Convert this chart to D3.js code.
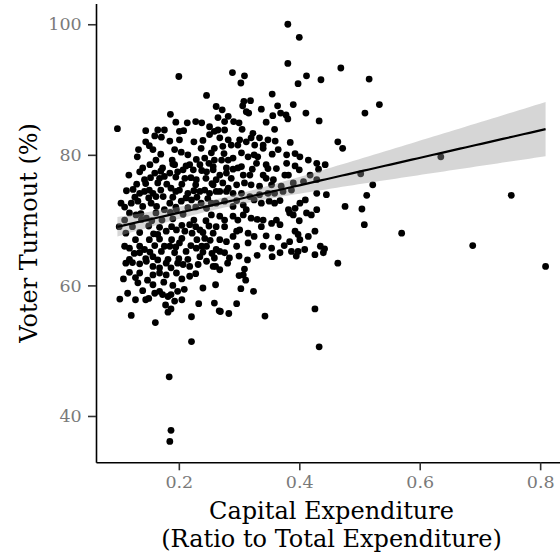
<!DOCTYPE html>
<html>
<head>
<meta charset="utf-8">
<script src="https://cdn.jsdelivr.net/npm/d3@7"></script>
<style>
  body { margin: 0; background: #fff; }
  svg { display: block; }
</style>
</head>
<body>
<svg id="chart"></svg>
<script>
// [capital expenditure ratio, voter turnout %] per district
const districts = [
  [0.200,92.0],[0.246,89.1],[0.262,87.4],[0.186,86.2],[0.214,84.9],[0.238,84.9],[0.098,84.0],[0.145,83.7],
  [0.165,83.8],[0.176,83.8],[0.160,82.9],[0.171,82.7],[0.201,83.6],[0.208,83.7],[0.201,82.3],[0.251,84.3],
  [0.251,83.1],[0.259,83.6],[0.133,80.8],[0.151,81.4],[0.157,80.8],[0.131,79.7],[0.193,80.8],[0.204,80.4],
  [0.189,79.2],[0.237,81.0],[0.229,79.3],[0.243,79.5],[0.254,80.3],[0.259,79.2],[0.162,79.2],[0.140,78.0],
  [0.173,78.0],[0.193,78.5],[0.212,78.3],
  [0.381,100.0],[0.400,98.0],
  [0.381,94.0],[0.289,92.6],[0.309,92.1],[0.303,91.0],[0.412,92.1],[0.398,90.9],[0.436,91.5],[0.355,89.3],
  [0.272,86.9],[0.308,88.2],[0.319,88.3],[0.306,87.5],[0.312,86.6],[0.316,86.4],[0.337,87.0],[0.364,87.5],
  [0.390,87.7],[0.356,86.0],[0.369,86.4],[0.378,86.1],[0.381,85.5],[0.411,86.4],[0.433,85.2],[0.265,85.7],
  [0.276,85.1],[0.282,85.9],[0.291,85.1],[0.265,83.8],[0.276,83.8],[0.268,82.6],[0.282,82.3],[0.305,83.9],
  [0.359,83.9],[0.259,81.0],[0.273,81.3],[0.287,81.5],[0.301,82.3],[0.323,83.3],[0.320,82.6],[0.334,82.6],
  [0.326,81.5],[0.340,81.5],[0.348,82.3],[0.304,80.3],[0.298,81.5],[0.340,81.0],[0.365,80.8],[0.379,80.0],
  [0.393,80.2],[0.401,79.7],[0.415,79.2],[0.429,78.7],[0.271,79.2],[0.282,79.2],[0.290,79.5],[0.315,79.7],
  [0.331,79.7],[0.345,78.5],[0.329,78.7],[0.257,78.2],[0.279,78.0],[0.298,78.0],[0.379,78.7],[0.393,78.3],
  [0.469,93.3],[0.516,91.6],[0.533,87.7],[0.509,86.4],[0.464,82.0],[0.472,81.0],[0.635,79.7],[0.502,77.1],
  [0.522,75.4],[0.512,73.8],[0.752,73.8],[0.476,72.1],[0.504,71.7],[0.508,69.3],[0.570,68.0],[0.442,65.6],
  [0.440,65.0],[0.688,66.1],[0.464,63.4],[0.809,62.9],[0.433,50.6],
  [0.184,46.0],[0.187,37.8],[0.185,36.1],
  [0.281,63.4],[0.261,62.9],[0.268,62.4],[0.314,63.9],[0.309,62.5],[0.300,61.5],[0.307,61.6],[0.311,60.8],
  [0.261,60.1],[0.303,59.5],[0.324,59.1],[0.259,57.3],[0.267,56.1],[0.269,56.0],[0.283,55.7],[0.296,57.2],
  [0.343,55.3],[0.426,56.4],
  [0.112,63.4],[0.123,63.5],[0.135,63.3],[0.146,63.7],[0.157,62.9],[0.168,62.7],[0.179,63.4],[0.187,62.7],
  [0.198,63.4],[0.207,63.2],[0.218,62.9],[0.232,63.2],[0.246,63.7],[0.257,62.9],[0.135,61.9],[0.157,61.6],
  [0.168,61.9],[0.179,61.6],[0.196,61.9],[0.218,61.4],[0.108,61.0],[0.157,60.1],[0.132,60.4],[0.140,59.2],
  [0.160,58.8],[0.168,59.1],[0.173,58.6],[0.182,58.3],[0.187,58.6],[0.198,59.1],[0.209,59.4],[0.102,57.9],
  [0.128,57.8],[0.145,57.8],[0.193,57.6],[0.187,56.4],[0.182,55.9],[0.233,57.2],[0.121,55.4],[0.161,54.3],
  [0.221,55.2],[0.221,51.4],
  [0.117,76.9],[0.135,77.4],[0.143,76.2],[0.160,77.2],[0.176,76.7],[0.185,77.2],[0.207,77.7],[0.210,76.4],
  [0.224,77.7],[0.235,78.5],[0.229,76.2],[0.246,77.4],[0.257,77.7],[0.262,76.2],[0.165,75.7],[0.151,74.6],
  [0.157,74.1],[0.124,74.7],[0.135,74.1],[0.187,74.9],[0.201,74.6],[0.215,74.1],[0.235,74.4],[0.251,74.1],
  [0.104,72.6],[0.121,72.6],[0.132,72.9],[0.140,72.1],[0.154,72.6],[0.174,73.6],[0.185,72.6],[0.204,72.9],
  [0.221,73.1],[0.237,72.6],[0.254,72.6],[0.101,69.0],[0.129,70.8],[0.146,70.3],[0.162,71.1],[0.176,71.6],
  [0.196,71.6],[0.118,65.7],[0.135,66.0],[0.126,64.9],[0.143,65.5],[0.151,67.0],[0.165,67.8],[0.179,68.3],
  [0.196,68.5],[0.210,68.3],[0.218,69.3],[0.235,68.5],[0.243,67.2],[0.257,68.0],[0.157,64.4],[0.171,65.2],
  [0.185,66.0],[0.201,66.5],[0.212,65.2],[0.229,65.7],[0.246,66.0],[0.262,65.5],[0.235,64.4],
  [0.304,78.2],[0.348,77.9],[0.443,78.5],[0.268,76.9],[0.279,77.2],[0.287,76.4],[0.307,76.9],[0.318,76.9],
  [0.340,76.9],[0.345,76.4],[0.357,76.2],[0.376,76.9],[0.382,76.9],[0.418,76.9],[0.257,75.4],[0.273,75.7],
  [0.282,74.9],[0.296,75.4],[0.309,75.7],[0.320,75.4],[0.334,75.2],[0.354,75.4],[0.370,75.2],[0.390,75.7],
  [0.407,75.9],[0.429,76.2],[0.268,74.4],[0.279,74.4],[0.290,74.1],[0.304,74.1],[0.318,73.6],[0.334,73.9],
  [0.348,74.1],[0.359,74.1],[0.373,74.4],[0.387,74.6],[0.429,74.1],[0.445,73.9],[0.262,72.6],[0.276,72.9],
  [0.290,72.1],[0.307,72.3],[0.312,71.6],[0.337,72.6],[0.359,72.6],[0.382,71.6],[0.393,71.8],[0.401,72.6],
  [0.412,71.1],[0.420,70.8],[0.429,71.6],[0.390,70.8],[0.254,70.8],[0.268,70.6],[0.276,70.0],[0.290,70.6],
  [0.307,70.8],[0.320,70.3],[0.340,70.0],[0.337,69.0],[0.354,69.5],[0.368,69.3],[0.384,71.1],[0.262,69.0],
  [0.276,69.0],[0.296,68.3],[0.315,68.0],[0.301,68.5],[0.393,68.3],[0.398,67.8],[0.384,66.7],[0.401,67.0],
  [0.426,68.3],[0.268,67.0],[0.279,66.7],[0.290,67.5],[0.315,66.5],[0.296,66.0],[0.354,65.7],[0.368,65.0],
  [0.387,65.2],[0.398,65.2],[0.409,65.5],[0.426,64.7],[0.268,65.2],[0.276,65.0],[0.259,64.2],[0.284,64.2],
  // denser core of the cloud
  [0.152,78.5],[0.190,78.6],[0.218,78.5],[0.250,78.7],[0.170,77.5],[0.198,77.4],
  [0.238,77.6],[0.153,76.5],[0.168,76.4],[0.195,76.6],[0.220,76.5],[0.245,76.4],[0.130,75.5],
  [0.145,75.6],[0.180,75.5],[0.205,75.5],[0.228,75.4],[0.255,75.6],[0.113,74.5],[0.143,74.4],[0.170,74.6],
  [0.195,74.4],[0.225,74.5],[0.243,74.6],[0.262,74.4],[0.127,73.5],[0.150,73.4],[0.162,73.6],[0.190,73.5],
  [0.212,73.4],[0.230,73.5],[0.248,73.3],[0.110,72.0],[0.163,72.1],[0.195,72.0],[0.215,71.9],[0.228,72.0],
  [0.246,71.8],[0.118,71.1],[0.137,71.0],[0.186,71.2],[0.207,70.9],[0.110,70.0],[0.138,70.1],[0.155,69.9],
  [0.172,70.0],[0.190,70.2],[0.225,70.0],[0.245,69.9],[0.123,69.0],[0.150,69.1],[0.168,68.9],[0.188,69.0],
  [0.205,69.2],[0.228,69.0],[0.250,69.1],[0.112,68.0],[0.135,68.1],[0.158,67.9],[0.222,68.0],[0.240,68.1],
  [0.128,67.0],[0.168,67.1],[0.188,67.0],[0.205,67.2],[0.230,67.0],[0.252,66.9],[0.110,66.0],[0.160,66.1],
  [0.176,66.0],[0.195,65.9],[0.220,66.1],[0.238,66.0],[0.135,65.0],[0.152,65.1],[0.193,65.0],[0.240,65.1],
  [0.255,64.9],[0.118,64.0],[0.145,64.1],[0.165,63.9],[0.182,64.0],[0.200,64.1],[0.215,64.0],
  [0.290,77.8],[0.322,77.8],[0.362,77.9],[0.400,77.7],[0.432,77.8],[0.296,73.0],[0.325,73.1],[0.350,72.9],
  [0.368,73.0],[0.410,73.1],[0.298,70.0],[0.330,70.1],[0.362,70.0],[0.400,69.9],[0.325,67.5],[0.345,67.6],
  [0.365,67.4],[0.415,67.5],[0.340,66.0],[0.375,66.1],[0.435,66.0],[0.300,64.5],[0.330,64.6],[0.355,64.4],
  [0.395,64.5],
  [0.145,82.0],[0.185,82.1],[0.225,82.0],[0.240,82.2],[0.312,82.0],[0.360,82.1],[0.385,81.9],[0.170,80.1],
  [0.215,80.0],[0.275,80.2],[0.325,80.0],[0.355,80.1],[0.195,85.0],[0.228,85.1],[0.300,84.9],[0.345,85.0],
  [0.118,62.0],[0.128,61.2],[0.148,60.8],[0.175,60.5],[0.190,60.0],[0.205,61.0],[0.228,61.8],[0.150,58.0],
  [0.178,57.0],[0.205,57.8],[0.240,59.6],[0.115,58.8]
];
const xTicks = [0.2, 0.4, 0.6, 0.8];
const yTicks = [40, 60, 80, 100];
const xTitle = ['Capital Expenditure', '(Ratio to Total Expenditure)'];
const yTitle = 'Voter Turnout (%)';

const width = 560, height = 556;
const panel = { left: 96, right: 567, top: 3.4, bottom: 462.3 };
const font = '"DejaVu Serif", serif';

const svg = d3.select('#chart').attr('width', width).attr('height', height);

// ggplot-style 5% expansion around the data
const expand = ext => { const d = (ext[1] - ext[0]) * 0.05; return [ext[0] - d, ext[1] + d]; };
const xExt = d3.extent(districts, d => d[0]);
const x = d3.scaleLinear().domain(expand(xExt)).range([panel.left, panel.right]);
const y = d3.scaleLinear().domain(expand(d3.extent(districts, d => d[1]))).range([panel.bottom, panel.top]);

// linear fit with 95% confidence band (geom_smooth(method = "lm"))
const n = districts.length;
const mx = d3.mean(districts, d => d[0]), my = d3.mean(districts, d => d[1]);
const sxx = d3.sum(districts, d => (d[0] - mx) ** 2);
const sxy = d3.sum(districts, d => (d[0] - mx) * (d[1] - my));
const slope = sxy / sxx, icpt = my - slope * mx;
const sse = d3.sum(districts, d => (d[1] - icpt - slope * d[0]) ** 2);
const se = Math.sqrt(sse / (n - 2));
const tq = 1.965;
const fit = d3.range(81).map(i => {
  const v = xExt[0] + (xExt[1] - xExt[0]) * i / 80;
  const yh = icpt + slope * v;
  const h = tq * se * Math.sqrt(1 / n + (v - mx) ** 2 / sxx);
  return { x: v, y: yh, lo: yh - h, hi: yh + h };
});

svg.append('g')
  .selectAll('circle')
  .data(districts)
  .join('circle')
  .attr('cx', d => x(d[0]))
  .attr('cy', d => y(d[1]))
  .attr('r', 3.4)
  .attr('fill', '#000');

svg.append('path')
  .datum(fit)
  .attr('d', d3.area().x(d => x(d.x)).y0(d => y(d.lo)).y1(d => y(d.hi)))
  .attr('fill', '#999')
  .attr('fill-opacity', 0.4);

svg.append('path')
  .datum(fit)
  .attr('d', d3.line().x(d => x(d.x)).y(d => y(d.y)))
  .attr('fill', 'none')
  .attr('stroke', '#000')
  .attr('stroke-width', 2.2);

// axes
const gx = svg.append('g')
  .attr('transform', `translate(0,${panel.bottom})`)
  .call(d3.axisBottom(x).tickValues(xTicks).tickFormat(d3.format('.1f')).tickSize(8).tickSizeOuter(0).tickPadding(5.5));
const gy = svg.append('g')
  .attr('transform', `translate(${panel.left},0)`)
  .call(d3.axisLeft(y).tickValues(yTicks).tickSize(8).tickSizeOuter(0).tickPadding(6.3));

[gx, gy].forEach(g => {
  g.select('.domain').attr('stroke', '#000').attr('stroke-width', 1.6);
  g.selectAll('.tick line').attr('stroke', '#333').attr('stroke-width', 1.6);
  g.selectAll('.tick text').attr('fill', '#7a7a7a').style('font-family', font).style('font-size', '17.5px');
});

svg.append('text')
  .attr('text-anchor', 'middle')
  .style('font-family', font).style('font-size', '24px').attr('fill', '#000')
  .selectAll('tspan')
  .data(xTitle)
  .join('tspan')
  .attr('x', (panel.left + panel.right) / 2)
  .attr('y', (d, i) => 519 + i * 28)
  .text(d => d);

svg.append('text')
  .attr('transform', `translate(37,${(panel.top + panel.bottom) / 2}) rotate(-90)`)
  .attr('text-anchor', 'middle')
  .style('font-family', font).style('font-size', '24px').attr('fill', '#000')
  .text(yTitle);
</script>
</body>
</html>
